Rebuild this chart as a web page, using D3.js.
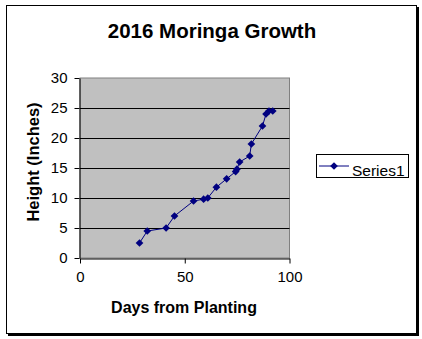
<!DOCTYPE html>
<html><head><meta charset="utf-8">
<script src="https://cdn.jsdelivr.net/npm/d3@7"></script>
<style>html,body{margin:0;padding:0;background:#fff;}svg{display:block;font-family:"Liberation Sans",Arial,sans-serif;}</style>
</head><body>
<script>
const title = "2016 Moringa Growth";
const xTitle = "Days from Planting";
const yTitle = "Height (Inches)";
const seriesName = "Series1";
const days =   [28.4, 32.1, 41.1, 45.1, 54.2, 59, 61, 65.1, 70, 74.3, 74.9, 76.2, 81, 81.8, 87.1, 88.8, 90.2, 92];
const height = [2.5, 4.5, 5, 7, 9.5, 9.8, 10, 11.8, 13.2, 14.4, 14.8, 16, 17, 19, 22, 24, 24.5, 24.5];
const xTicks = [0, 50, 100];
const yTicks = [0, 5, 10, 15, 20, 25, 30];

const W = 422, H = 339;
const svg = d3.select("body").append("svg").attr("width", W).attr("height", H);
const navy = "#000080";

// outer frame with shadow
svg.append("rect").attr("x", 8).attr("y", 7).attr("width", 411).attr("height", 329).attr("fill", "#000");
svg.append("rect").attr("x", 6.5).attr("y", 5.5).attr("width", 410).attr("height", 328).attr("fill", "#fff").attr("stroke", "#000");

const x = d3.scaleLinear().domain([0, 100]).range([80, 289.5]);
const y = d3.scaleLinear().domain([0, 30]).range([258, 78]);

svg.append("rect").attr("x", x(0)).attr("y", y(30)).attr("width", x(100) - x(0)).attr("height", y(0) - y(30))
  .attr("fill", "#c0c0c0").attr("stroke", "#808080");

svg.append("g").selectAll("line").data(yTicks.filter(v => v > 0 && v < 30)).join("line")
  .attr("x1", x(0)).attr("x2", x(100)).attr("y1", d => Math.round(y(d)) + 0.5).attr("y2", d => Math.round(y(d)) + 0.5)
  .attr("stroke", "#000");

const xAxis = svg.append("g").attr("transform", `translate(0,${y(0) + 0.5})`)
  .call(d3.axisBottom(x).tickValues(xTicks).tickSize(5).tickPadding(8).tickSizeOuter(0));
const yAxis = svg.append("g").attr("transform", `translate(${x(0) - 0.5},0)`)
  .call(d3.axisLeft(y).tickValues(yTicks).tickSize(5).tickPadding(7).tickSizeOuter(0));
[xAxis, yAxis].forEach(g => {
  g.select(".domain").attr("stroke", "#000");
  g.selectAll(".tick line").attr("stroke", "#000");
  g.selectAll(".tick text").attr("font-size", 15).attr("fill", "#000").attr("font-family", "Liberation Sans, Arial, sans-serif");
});

const line = d3.line().x((d, i) => x(days[i])).y((d, i) => y(height[i]));
svg.append("path").datum(height).attr("d", line).attr("fill", "none").attr("stroke", navy).attr("stroke-width", 1);

const diamond = d3.symbol().type(d3.symbolDiamond2).size(38);
svg.append("g").selectAll("path").data(height).join("path")
  .attr("d", diamond).attr("transform", (d, i) => `translate(${x(days[i])},${y(d)})`).attr("fill", navy);

svg.append("text").attr("x", 212).attr("y", 38).attr("text-anchor", "middle")
  .attr("font-size", 20.5).attr("font-weight", "bold").text(title);
svg.append("text").attr("x", 184).attr("y", 313).attr("text-anchor", "middle")
  .attr("font-size", 16).attr("font-weight", "bold").text(xTitle);
svg.append("text").attr("transform", "translate(39,162) rotate(-90)").attr("text-anchor", "middle")
  .attr("font-size", 16.5).attr("font-weight", "bold").text(yTitle);

// legend
const lg = svg.append("g");
lg.append("rect").attr("x", 316.5).attr("y", 154.5).attr("width", 92).attr("height", 23).attr("fill", "#fff").attr("stroke", "#000");
lg.append("line").attr("x1", 319).attr("x2", 349).attr("y1", 166).attr("y2", 166).attr("stroke", navy);
lg.append("path").attr("d", diamond).attr("transform", "translate(334,166)").attr("fill", navy);
lg.append("text").attr("x", 352).attr("y", 175.5).attr("font-size", 15.5).text(seriesName);
</script>
</body></html>
